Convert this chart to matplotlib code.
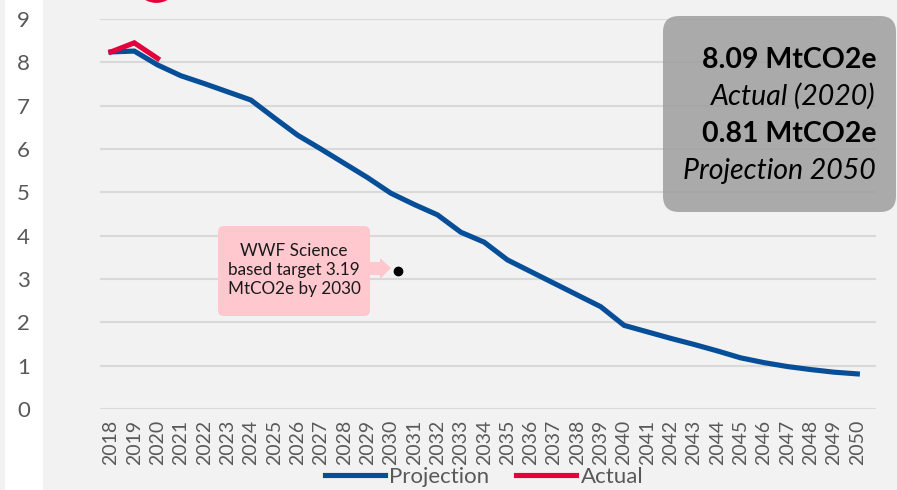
import matplotlib
matplotlib.use('Agg')
import matplotlib.pyplot as plt
import matplotlib.transforms as mtransforms
from matplotlib.patches import FancyBboxPatch, Polygon, Ellipse, Rectangle
import numpy as np

plt.rcParams['font.family'] = ['Lato', 'DejaVu Sans']

# data
years = [str(y) for y in range(2018, 2051)]
projection = [8.24, 8.26, 7.94, 7.69, 7.51, 7.32, 7.13, 6.72, 6.32, 6.00, 5.67,
              5.34, 4.98, 4.72, 4.48, 4.08, 3.85, 3.44, 3.17, 2.90, 2.63, 2.36,
              1.93, 1.78, 1.63, 1.49, 1.34, 1.18, 1.07, 0.98, 0.91, 0.85, 0.81]
actual = [8.24, 8.45, 8.09]
target_pos = 12.3   # just after 2030
target_val = 3.19

box_lines = ['8.09 MtCO2e', 'Actual (2020)', '0.81 MtCO2e', 'Projection 2050']
note_text = 'WWF Science\nbased target 3.19\nMtCO2e by 2030'

blue = '#064f98'
red = '#e4003b'
W, H = 897, 490

fig = plt.figure(figsize=(W / 100, H / 100), dpi=100)
fig.patch.set_facecolor('#f2f2f2')
px = mtransforms.Affine2D().scale(1 / W, -1 / H).translate(0, 1) + fig.transFigure

# white strip on the left of the screenshot (behind the axes)
fig.patches.append(Rectangle((5, 0), 38, H, transform=px, fc='white', ec='none', zorder=-1))

ax = fig.add_axes([100 / W, 1 - 409 / H, 776 / W, 390 / H])
ax.set_facecolor('none')
x = np.arange(len(years))

for y in range(0, 10):
    ax.axhline(y, color='#d9d9d9', lw=1.5, zorder=0)

ax.plot(x, projection, color=blue, lw=3.7, solid_joinstyle='miter', label='Projection', zorder=3)
ax.plot(x[:len(actual)], actual, color=red, lw=3.7, solid_joinstyle='miter', label='Actual', zorder=4)
ax.plot([target_pos], [target_val], 'o', color='black', ms=6, zorder=5)

# red circle highlight, mostly outside the picture
ax.add_patch(Ellipse((1.95, 10.02), 2.0, 1.2, fill=False, ec=red, lw=3, clip_on=False, zorder=5))

ax.set_xlim(-0.47, 32.8)
ax.set_ylim(0, 9)
ax.set_xticks(x)
ax.set_xticklabels(years, rotation=90, fontsize=14, color='#595959')
ax.set_yticks(range(0, 10))
ax.set_yticklabels([str(i) for i in range(0, 10)], fontsize=16, color='#595959', ha='center')
ax.tick_params(axis='both', length=0)
ax.tick_params(axis='x', pad=8)
ax.tick_params(axis='y', pad=55)
for s in ax.spines.values():
    s.set_visible(False)

# grey summary box
fig.patches.append(FancyBboxPatch((663, 16), 233, 196, boxstyle='round,pad=0,rounding_size=16',
                                  transform=px, fc='#9e9e9e', ec='none', alpha=0.85, zorder=6))
styles = [('bold', 'normal'), ('normal', 'italic'), ('bold', 'normal'), ('normal', 'italic')]
ys = [60, 96, 134, 171]
for txt, yy, (wt, st) in zip(box_lines, ys, styles):
    fig.text(876, yy, txt, transform=px, ha='right', va='center', fontsize=20.5,
             fontweight=wt, fontstyle=st, color='black', zorder=7)

# pink callout
fig.patches.append(FancyBboxPatch((218, 226), 152, 90, boxstyle='round,pad=0,rounding_size=6',
                                  transform=px, fc='#ffc7ce', ec='none', zorder=6))
fig.patches.append(Polygon([(369, 262), (380, 262), (380, 258), (391, 268), (380, 279), (380, 275), (369, 275)],
                           closed=True, transform=px, fc='#ffc7ce', ec='none', zorder=6))
fig.text(294, 270, note_text, transform=px, ha='center', va='center', fontsize=12.3,
         linespacing=1.2, color='#1a1a1a', zorder=7)

fig.legend(loc='center', bbox_to_anchor=(484 / W, 1 - 477 / H), ncol=2, frameon=False,
           fontsize=16, handlelength=2.7, columnspacing=1.2, handletextpad=0.2,
           labelcolor='#595959')

fig.savefig('out.png', dpi=100, facecolor=fig.get_facecolor())
